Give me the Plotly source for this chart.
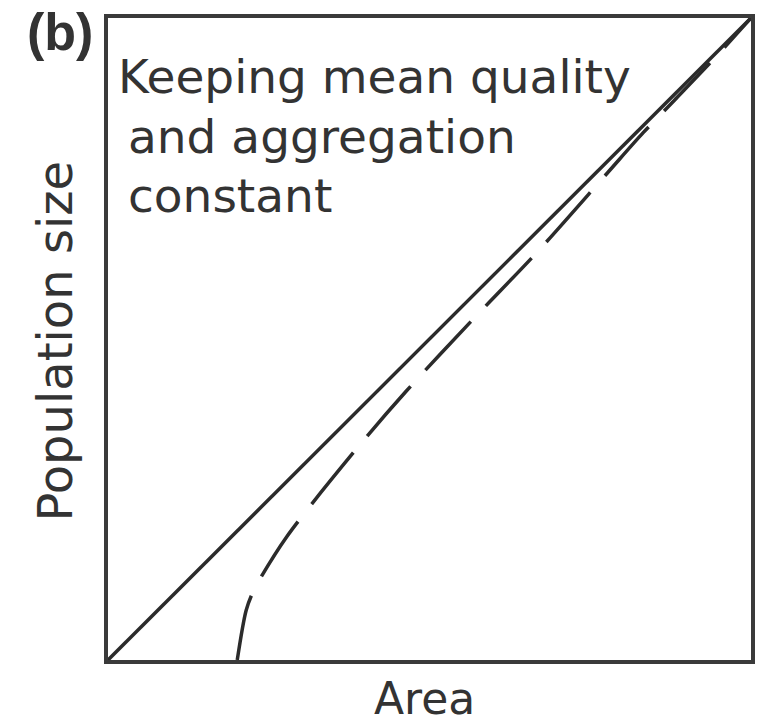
import plotly.graph_objects as go

# Data (normalised units: area on x, population size on y)
solid_x = [0.0, 1.0]
solid_y = [0.0, 1.0]
dashed_x = [0.201, 0.215, 0.227, 0.278, 0.394, 0.464, 0.567, 0.668, 0.777, 0.832, 0.881, 0.941, 1.0]
dashed_y = [0.0, 0.078, 0.109, 0.192, 0.338, 0.419, 0.530, 0.636, 0.759, 0.821, 0.872, 0.935, 1.0]

panel_label = "(b)"
note_lines = ["Keeping mean quality", "and aggregation", "constant"]
x_title = "Area"
y_title = "Population size"

ink = "#2b2b2b"
fig = go.Figure()
fig.add_trace(go.Scatter(x=solid_x, y=solid_y, mode="lines",
                         line=dict(color=ink, width=3.5), hoverinfo="skip"))
fig.add_trace(go.Scatter(x=dashed_x, y=dashed_y, mode="lines",
                         line=dict(color=ink, width=3.5, dash="66px,22px",
                                   shape="spline", smoothing=0.8),
                         hoverinfo="skip"))

txt_font = dict(family="DejaVu Sans", size=47, color="#333333")
annos = [
    dict(text=note_lines[0], x=0.0124, y=0.955, xanchor="left", yanchor="top", font=txt_font),
    dict(text=note_lines[1], x=0.0278, y=0.861, xanchor="left", yanchor="top", font=txt_font),
    dict(text=note_lines[2], x=0.0278, y=0.769, xanchor="left", yanchor="top", font=txt_font),
    dict(text="<b>" + panel_label + "</b>", x=-0.129, y=1.027, xanchor="left", yanchor="top",
         font=dict(family="Liberation Sans", size=52, color="#333333")),
    dict(text=x_title, x=0.492, y=-0.0171, xanchor="center", yanchor="top",
         font=dict(family="DejaVu Sans", size=44, color="#333333")),
    dict(text=y_title, x=-0.0830, y=0.497, xanchor="center", yanchor="middle", textangle=-90,
         font=dict(family="DejaVu Sans", size=48, color="#333333")),
]
for a in annos:
    a.update(xref="paper", yref="paper", showarrow=False)

axis_common = dict(range=[0, 1], showgrid=False, zeroline=False, showticklabels=False,
                   ticks="", showline=True, mirror=True, linecolor="#3a3a3a", linewidth=4,
                   fixedrange=True)
fig.update_layout(
    width=762, height=724,
    margin=dict(l=108, r=7, t=18, b=64),
    paper_bgcolor="white", plot_bgcolor="white",
    showlegend=False,
    xaxis=axis_common, yaxis=axis_common,
    annotations=annos,
)
fig.write_html("out.html", config={"displayModeBar": False},
               post_script="document.body.style.margin='0';document.body.style.overflow='hidden';")
